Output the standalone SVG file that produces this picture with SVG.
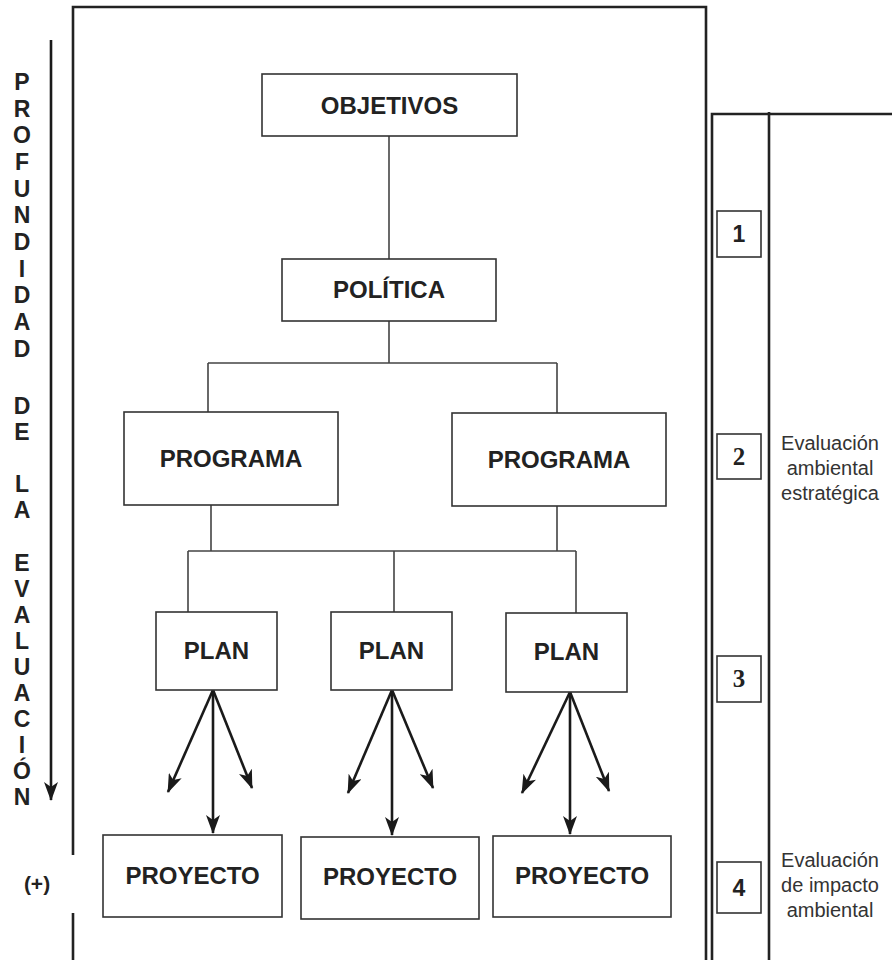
<svg xmlns="http://www.w3.org/2000/svg" width="892" height="960" viewBox="0 0 892 960">
<style>
.bg{fill:#fff}
.box{fill:#fff;stroke:#333;stroke-width:1.6}
.frame{fill:none;stroke:#222;stroke-width:2.6}
.conn{fill:none;stroke:#444;stroke-width:1.6}
.arr{fill:none;stroke:#1a1a1a;stroke-width:2.6}
.lbl{font-family:"Liberation Sans",Arial,sans-serif;font-weight:bold;font-size:24px;fill:#222;text-anchor:middle}
.vt{font-family:"Liberation Sans",Arial,sans-serif;font-weight:bold;font-size:23px;fill:#222;text-anchor:middle}
.num{font-family:"Liberation Sans",Arial,sans-serif;font-weight:bold;font-size:23px;fill:#222;text-anchor:middle}
.nums{font-family:"Liberation Serif","Times New Roman",serif;font-weight:bold;font-size:25px;fill:#222;text-anchor:middle}
.side{font-family:"Liberation Sans",Arial,sans-serif;font-size:20px;fill:#333;text-anchor:middle}
</style>
<defs>
<marker id="ah" viewBox="0 0 19 14" refX="18" refY="7" markerWidth="19" markerHeight="14" markerUnits="userSpaceOnUse" orient="auto">
<path d="M0,0 L19,7 L0,14 L5,7 Z" fill="#1a1a1a"/>
</marker>
</defs>
<rect class="bg" x="0" y="0" width="892" height="960"/>

<g id="frame">
<path class="frame" d="M73,960 V913 M73,855 V7 H706 V960"/>
<path class="frame" d="M712,960 V114 H892 M769,112 V960"/>
</g>

<g id="depth-axis">
<line class="arr" x1="51" y1="40" x2="51" y2="800" marker-end="url(#ah)"/>
<g class="vt">
<text x="22" y="90">P</text>
<text x="22" y="117">R</text>
<text x="22" y="143">O</text>
<text x="22" y="170">F</text>
<text x="22" y="197">U</text>
<text x="22" y="223">N</text>
<text x="22" y="250">D</text>
<text x="22" y="277">I</text>
<text x="22" y="303">D</text>
<text x="22" y="330">A</text>
<text x="22" y="357">D</text>
<text x="22" y="414">D</text>
<text x="22" y="440">E</text>
<text x="22" y="492">L</text>
<text x="22" y="518">A</text>
<text x="22" y="571">E</text>
<text x="22" y="597">V</text>
<text x="22" y="623">A</text>
<text x="22" y="649">L</text>
<text x="22" y="675">U</text>
<text x="22" y="701">A</text>
<text x="22" y="727">C</text>
<text x="22" y="753">I</text>
<text x="22" y="779">Ó</text>
<text x="22" y="805">N</text>
</g>
<text class="vt" x="37" y="891" style="font-size:21px">(+)</text>
</g>

<g id="connectors">
<path class="conn" d="M389,136 V259"/>
<path class="conn" d="M389,321 V363 M208,363 H557 M208,363 V412 M557,363 V413"/>
<path class="conn" d="M211,505 V551 M557,506 V551 M188,551 H576 M188,551 V612 M394,551 V612 M576,551 V613"/>
<line class="arr" x1="213" y1="690" x2="168" y2="792" marker-end="url(#ah)"/>
<line class="arr" x1="213" y1="690" x2="213" y2="833" marker-end="url(#ah)"/>
<line class="arr" x1="213" y1="690" x2="252" y2="788" marker-end="url(#ah)"/>
<line class="arr" x1="392" y1="690" x2="348" y2="793" marker-end="url(#ah)"/>
<line class="arr" x1="392" y1="690" x2="392" y2="835" marker-end="url(#ah)"/>
<line class="arr" x1="392" y1="690" x2="433" y2="788" marker-end="url(#ah)"/>
<line class="arr" x1="570" y1="692" x2="522" y2="793" marker-end="url(#ah)"/>
<line class="arr" x1="570" y1="692" x2="570" y2="834" marker-end="url(#ah)"/>
<line class="arr" x1="570" y1="692" x2="609" y2="791" marker-end="url(#ah)"/>
</g>

<g id="objetivos"><rect class="box" x="262" y="74" width="255" height="62"/><text class="lbl" x="389.5" y="114">OBJETIVOS</text></g>
<g id="politica"><rect class="box" x="282" y="259" width="214" height="62"/><text class="lbl" x="389" y="298">POLÍTICA</text></g>
<g id="programa1"><rect class="box" x="124" y="412" width="214" height="93"/><text class="lbl" x="231" y="467">PROGRAMA</text></g>
<g id="programa2"><rect class="box" x="452" y="413" width="214" height="93"/><text class="lbl" x="559" y="468">PROGRAMA</text></g>
<g id="plan1"><rect class="box" x="156" y="612" width="121" height="78"/><text class="lbl" x="216.5" y="659">PLAN</text></g>
<g id="plan2"><rect class="box" x="331" y="612" width="121" height="78"/><text class="lbl" x="391.5" y="659">PLAN</text></g>
<g id="plan3"><rect class="box" x="506" y="613" width="121" height="79"/><text class="lbl" x="566.5" y="660">PLAN</text></g>
<g id="proyecto1"><rect class="box" x="103" y="835" width="179" height="82"/><text class="lbl" x="192.5" y="884">PROYECTO</text></g>
<g id="proyecto2"><rect class="box" x="301" y="837" width="178" height="82"/><text class="lbl" x="390" y="885">PROYECTO</text></g>
<g id="proyecto3"><rect class="box" x="493" y="836" width="178" height="81"/><text class="lbl" x="582" y="884">PROYECTO</text></g>

<g id="level1"><rect class="box" x="717" y="211" width="44" height="46"/><text class="num" x="739" y="242">1</text></g>
<g id="level2"><rect class="box" x="717" y="434" width="44" height="45"/><text class="nums" x="739" y="465">2</text></g>
<g id="level3"><rect class="box" x="717" y="656" width="44" height="46"/><text class="nums" x="739" y="687">3</text></g>
<g id="level4"><rect class="box" x="717" y="862" width="44" height="51"/><text class="num" x="739" y="896">4</text></g>

<g id="eae" class="side">
<text x="830" y="450">Evaluación</text>
<text x="830" y="475">ambiental</text>
<text x="830" y="500">estratégica</text>
</g>
<g id="eia" class="side">
<text x="830" y="867">Evaluación</text>
<text x="830" y="892">de impacto</text>
<text x="830" y="917">ambiental</text>
</g>
</svg>
